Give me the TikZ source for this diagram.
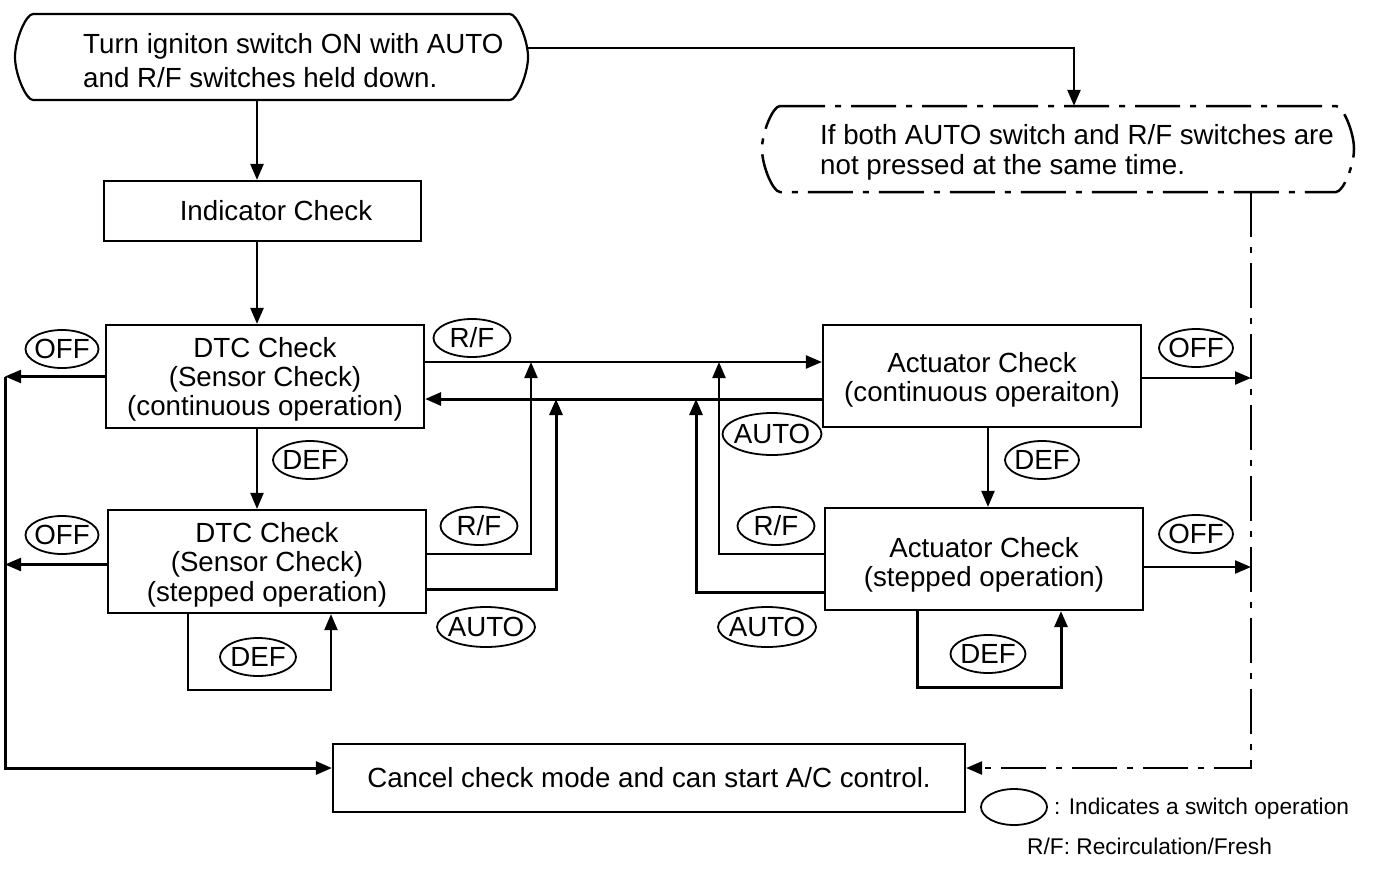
\documentclass[tikz,border=0pt]{standalone}
\usepackage{fontspec}
\setmainfont{Liberation Sans}
\usetikzlibrary{arrows.meta,shapes.geometric}
\begin{document}
\begin{tikzpicture}[x=1pt,y=-1pt,
  font=\fontsize{27.7pt}{29pt}\selectfont,
  every node/.style={inner sep=0pt},
  box/.style={draw,line width=2.2pt,rectangle,minimum width=318pt,align=center},
  arr/.style={line width=2.2pt,-{Triangle[length=16pt,width=13pt]}},
  tarr/.style={line width=3pt,-{Triangle[length=16pt,width=13pt]}},
  dd/.style={line width=2.5pt,dash pattern=on 45pt off 10pt on 6pt off 10pt},
  sw/.style={draw,ellipse,line width=1.8pt,minimum height=38pt,minimum width=#1},
  legtext/.style={anchor=west,font=\fontsize{22.7pt}{24pt}\selectfont}
]
\useasboundingbox (0,0) rectangle (1392,868);

% helper coordinates
\coordinate (colL) at (257,0);
\coordinate (colR) at (988,0);
\coordinate (leftx) at (5,0);
\coordinate (rightx) at (1251,0);
\coordinate (rfy) at (0,362);
\coordinate (autoy) at (0,399);
\coordinate (y554) at (0,554);
\coordinate (y589) at (0,589);
\coordinate (y592) at (0,592);
\coordinate (v1) at (531,362);
\coordinate (v2) at (556,399);
\coordinate (v3) at (719,362);
\coordinate (v4) at (696,399);
\coordinate (l1) at (188,690);
\coordinate (l2) at (331,690);
\coordinate (r1) at (917,687);
\coordinate (r2) at (1061,687);

% start terminal
\draw[line width=2.2pt] (33,14) -- (510,14) .. controls (517,14) and (528,40) .. (528,57)
  .. controls (528,74) and (517,100) .. (510,100) -- (33,100)
  .. controls (26,100) and (15,74) .. (15,57) .. controls (15,40) and (26,14) .. (33,14) -- cycle;
\node[minimum width=513pt,minimum height=86pt] (start) at (271.5,57) {};
\node[anchor=west,align=left,font=\fontsize{27.7pt}{34pt}\selectfont] (starttxt) at (83,61)
  {Turn igniton switch ON with AUTO\\and R/F switches held down.};

% check terminal (dash-dot)
\draw[dd] (780,106) -- (1336,106) .. controls (1343,106) and (1354,132) .. (1354,149)
  .. controls (1354,166) and (1343,192) .. (1336,192) -- (780,192)
  .. controls (773,192) and (762,166) .. (762,149) .. controls (762,132) and (773,106) .. (780,106) -- cycle;
\node[minimum width=592pt,minimum height=86pt] (chk) at (1058,149) {};
\node[anchor=west,align=left,font=\fontsize{27.7pt}{30pt}\selectfont] (chktxt) at (820,152)
  {If both AUTO switch and R/F switches are\\not pressed at the same time.};

% boxes
\node[box,minimum height=60pt,minimum width=317pt] (ind) at (262.5,211) {\hspace*{27pt}Indicator Check};
\node[box,minimum height=103pt] (dtc1) at (265,376.5) {\rule{0pt}{26pt}DTC Check\\(Sensor Check)\\(continuous operation)};
\node[box,minimum height=103pt,font=\fontsize{27.7pt}{29.5pt}\selectfont] (dtc2) at (267,561.5) {\rule{0pt}{26pt}DTC Check\\(Sensor Check)\\(stepped operation)};
\node[box,minimum height=102pt] (act1) at (982,376) {\rule{0pt}{28pt}Actuator Check\\(continuous operaiton)};
\node[box,minimum height=102pt] (act2) at (984,559) {\rule{0pt}{32pt}Actuator Check\\(stepped operation)};
\node[box,minimum height=68pt,minimum width=632pt] (cancel) at (649,778) {Cancel check mode and can start A/C control.};

\coordinate (cinL) at ([yshift=10pt]cancel.west);
\coordinate (cinR) at ([yshift=10pt]cancel.east);

% main flow
\draw[arr,line width=2.5pt] (start.south -| colL) -- (ind.north -| colL);
\draw[arr,line width=2.5pt] ([yshift=9pt]start.east) -| ([xshift=16pt]chk.north);
\draw[arr,line width=2.5pt] (ind.south -| colL) -- (dtc1.north -| colL);
\draw[arr] (dtc1.south -| colL) -- (dtc2.north -| colL);
\draw[arr] (act1.south -| colR) -- (act2.north -| colR);

% OFF exits
\draw[arr] (dtc1.west) -- (dtc1.west -| leftx);
\draw[arr] ([yshift=-3pt]dtc2.west) -- ([yshift=-3pt]dtc2.west -| leftx);
\draw[tarr] (dtc1.west -| leftx) |- (cinL);
\draw[arr] ([yshift=-2pt]act1.east) -- ([yshift=-2pt]act1.east -| rightx);
\draw[arr] ([yshift=-8pt]act2.east) -- ([yshift=-8pt]act2.east -| rightx);
\draw[dd,-{Triangle[length=16pt,width=13pt]}] (chk.south -| rightx) |- (cinR);

% R/F and AUTO transfers
\draw[arr] (dtc1.east |- rfy) -- (act1.west |- rfy);
\draw[tarr] (act1.west |- autoy) -- (dtc1.east |- autoy);
\draw[arr] (dtc2.east |- y554) -| (v1);
\draw[tarr] (dtc2.east |- y589) -| (v2);
\draw[arr] (act2.west |- y554) -| (v3);
\draw[tarr] (act2.west |- y592) -| (v4);

% DEF loops
\draw[arr] (dtc2.south -| l1) |- (l2) -- (dtc2.south -| l2);
\draw[tarr] (act2.south -| r1) |- (r2) -- (act2.south -| r2);

% switch labels
\node[sw=73pt] (off1) at (62,349) {\makebox[0pt]{OFF}};
\node[sw=73pt] (off2) at (62,535) {\makebox[0pt]{OFF}};
\node[sw=74pt] (off3) at (1196,348) {\makebox[0pt]{OFF}};
\node[sw=74pt] (off4) at (1196,534) {\makebox[0pt]{OFF}};
\node[sw=77pt] (rf1) at (472,338) {\makebox[0pt]{R/F}};
\node[sw=77pt] (rf2) at (479,526) {\makebox[0pt]{R/F}};
\node[sw=77pt] (rf3) at (776,526) {\makebox[0pt]{R/F}};
\node[sw=99pt,minimum height=42pt] (auto1) at (772,434) {\makebox[0pt]{AUTO}};
\node[sw=98pt,minimum height=40pt] (auto2) at (486,627) {\makebox[0pt]{AUTO}};
\node[sw=98pt,minimum height=40pt] (auto3) at (767,627) {\makebox[0pt]{AUTO}};
\node[sw=74pt] (def1) at (310,460) {\makebox[0pt]{DEF}};
\node[sw=74pt] (def2) at (1042,460) {\makebox[0pt]{DEF}};
\node[sw=76pt] (def3) at (258,657) {\makebox[0pt]{DEF}};
\node[sw=75pt] (def4) at (988,654) {\makebox[0pt]{DEF}};

% legend
\node[draw,ellipse,line width=1.8pt,minimum width=66pt,minimum height=36pt] (leg) at (1014,807) {};
\node[legtext] (legtxt) at (1054,809) {: Indicates a switch operation};
\node[legtext] (rftxt) at (1027,846) {R/F: Recirculation/Fresh};
\end{tikzpicture}
\end{document}
